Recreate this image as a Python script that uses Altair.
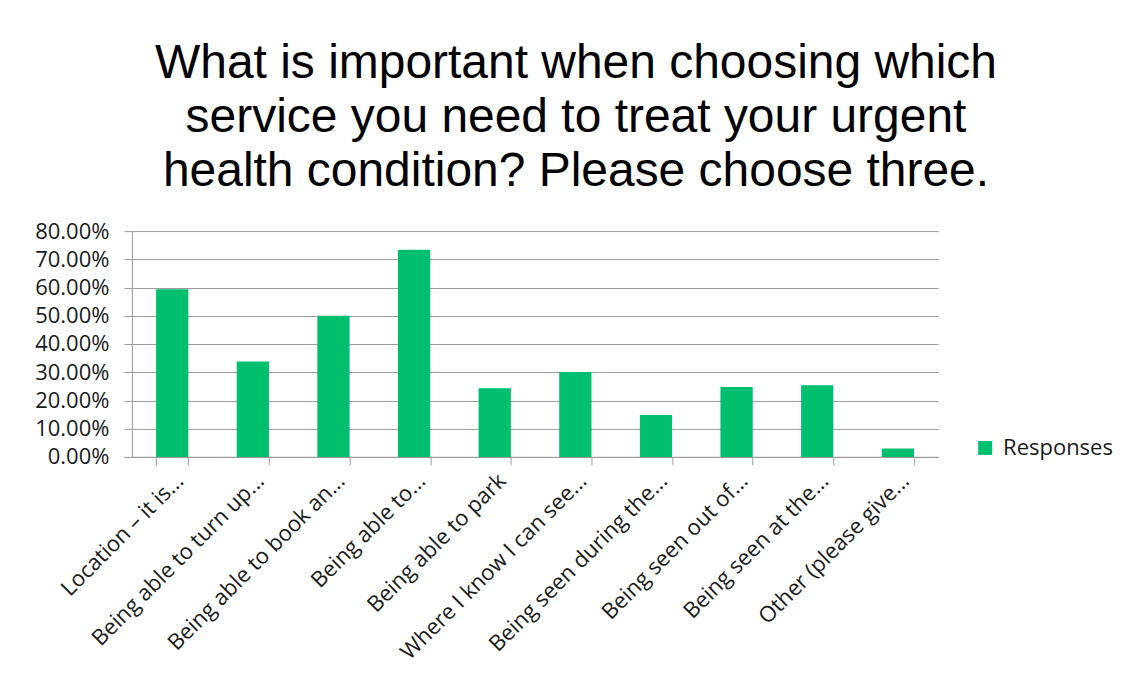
import altair as alt
import pandas as pd

categories = [
    "Location – it is...",
    "Being able to turn up...",
    "Being able to book an...",
    "Being able to...",
    "Being able to park",
    "Where I know I can see...",
    "Being seen during the...",
    "Being seen out of...",
    "Being seen at the...",
    "Other (please give...",
]
responses = [0.594, 0.338, 0.500, 0.734, 0.243, 0.301, 0.148, 0.248, 0.254, 0.030]
series_name = ["Responses"] * len(categories)
y_ticks = [0.0, 0.1, 0.2, 0.3, 0.4, 0.5, 0.6, 0.7, 0.8]
title_lines = [
    "What is important when choosing which",
    "service you need to treat your urgent",
    "health condition? Please choose three.",
]

df = pd.DataFrame({"option": categories, "share": responses, "series": series_name})

FONT = "Open Sans"
GREY = "#9a9a9a"
TXT = "#1a1a1a"

chart = (
    alt.Chart(df)
    .mark_bar()
    .encode(
        x=alt.X(
            "option:N",
            sort=None,
            title=None,
            scale=alt.Scale(paddingInner=0.6, paddingOuter=0.3),
            axis=alt.Axis(
                labelAngle=-45,
                labelFont=FONT,
                labelFontSize=22,
                labelColor=TXT,
                labelLimit=400,
                labelPadding=5,
                tickBand="extent",
                tickColor=GREY,
                tickSize=8,
                domainColor=GREY,
                grid=False,
            ),
        ),
        y=alt.Y(
            "share:Q",
            title=None,
            scale=alt.Scale(domain=[0, 0.8], nice=False),
            axis=alt.Axis(
                values=y_ticks,
                format=".2%",
                labelFont=FONT,
                labelFontSize=22,
                labelColor=TXT,
                labelPadding=15,
                tickColor=GREY,
                tickSize=8,
                domainColor=GREY,
                gridColor=GREY,
            ),
        ),
        color=alt.Color(
            "series:N",
            scale=alt.Scale(range=["#00bf6f"]),
            legend=alt.Legend(
                title=None,
                orient="none",
                legendX=843,
                legendY=206,
                symbolType="square",
                symbolSize=196,
                symbolStrokeWidth=0,
                labelFont=FONT,
                labelFontSize=22,
                labelColor=TXT,
                labelOffset=7,
                padding=0,
            ),
        ),
    )
    .properties(
        width=807,
        height=226,
        title=alt.TitleParams(
            text=title_lines,
            font="Liberation Sans",
            fontSize=48,
            fontWeight="normal",
            color="#000000",
            lineHeight=54,
            anchor="middle",
            dx=41,
            offset=24,
        ),
        padding={"left": 124, "top": 223, "right": 186, "bottom": 215},
        autosize=alt.AutoSizeParams(type="none"),
    )
    .configure_view(stroke=None)
)

chart.save("out.html", embed_options={"renderer": "svg", "actions": False})
